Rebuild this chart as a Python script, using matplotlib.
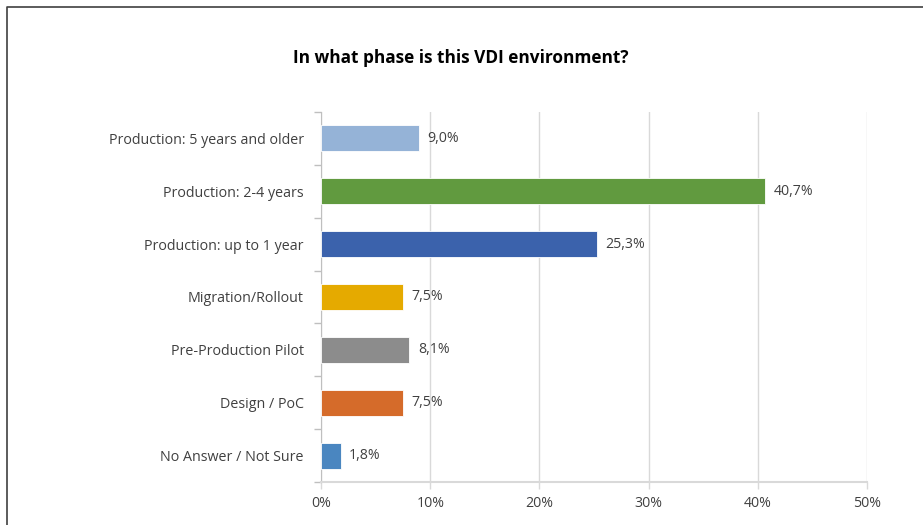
import numpy as np
import matplotlib
matplotlib.use("Agg")
import matplotlib.pyplot as plt
from matplotlib.lines import Line2D

# Données
categories = ["Production: 5 years and older", "Production: 2-4 years",
              "Production: up to 1 year", "Migration/Rollout",
              "Pre-Production Pilot", "Design / PoC", "No Answer / Not Sure"]
values = [9.0, 40.7, 25.3, 7.5, 8.1, 7.5, 1.8]
colors = ["#95B3D7", "#619A3F", "#3B62AC", "#E5AA00", "#8C8C8C", "#D56B2A", "#4A86C0"]
xticks = [0, 10, 20, 30, 40, 50]

plt.rcParams['font.family'] = ['Open Sans', 'DejaVu Sans']

fig = plt.figure(figsize=(9.23, 5.25), dpi=100)
ax = fig.add_axes([0.3478, 0.0819, 0.5915, 0.7048])

y = np.arange(len(categories))
ax.barh(y, values, height=0.49, color=colors, edgecolor="white", linewidth=0.6, zorder=3)

for yi, v in zip(y, values):
    ax.annotate(f"{v:.1f}%".replace(".", ","), (v, yi), xytext=(6, 0),
                textcoords="offset points", va="center", ha="left",
                fontsize=10.2, color="#404040")

ax.set_xlim(0, 50)
ax.set_ylim(len(categories) - 0.5, -0.5)
ax.set_xticks(xticks)
ax.set_xticklabels([f"{t}%" for t in xticks], fontsize=10.2, color="#404040")
ax.set_yticks(y)
ax.set_yticklabels(categories, fontsize=10.3, color="#404040")
ax.tick_params(axis="y", which="major", length=0, pad=12.5)
ax.set_yticks(np.arange(-0.5, len(categories)), minor=True)
ax.tick_params(axis="y", which="minor", length=5, color="#BFBFBF", width=1)
ax.tick_params(axis="x", length=5, color="#D9D9D9", width=1, pad=5)

ax.grid(axis="x", color="#D9D9D9", linewidth=1, zorder=0)
for s in ["top", "right"]:
    ax.spines[s].set_visible(False)
ax.spines["left"].set_color("#BFBFBF")
ax.spines["bottom"].set_color("#D9D9D9")
ax.spines["bottom"].set_linewidth(1.5)

fig.text(0.499, 0.889, "In what phase is this VDI environment?", ha="center", va="center",
         fontsize=12.4, fontweight="bold", color="black")

# Cadre
fig.add_artist(Line2D([7 / 923, 7 / 923, 1], [0, 1 - 7 / 525, 1 - 7 / 525],
                      transform=fig.transFigure, color="#404040", linewidth=1.2))

plt.savefig("out.png", dpi=100)
